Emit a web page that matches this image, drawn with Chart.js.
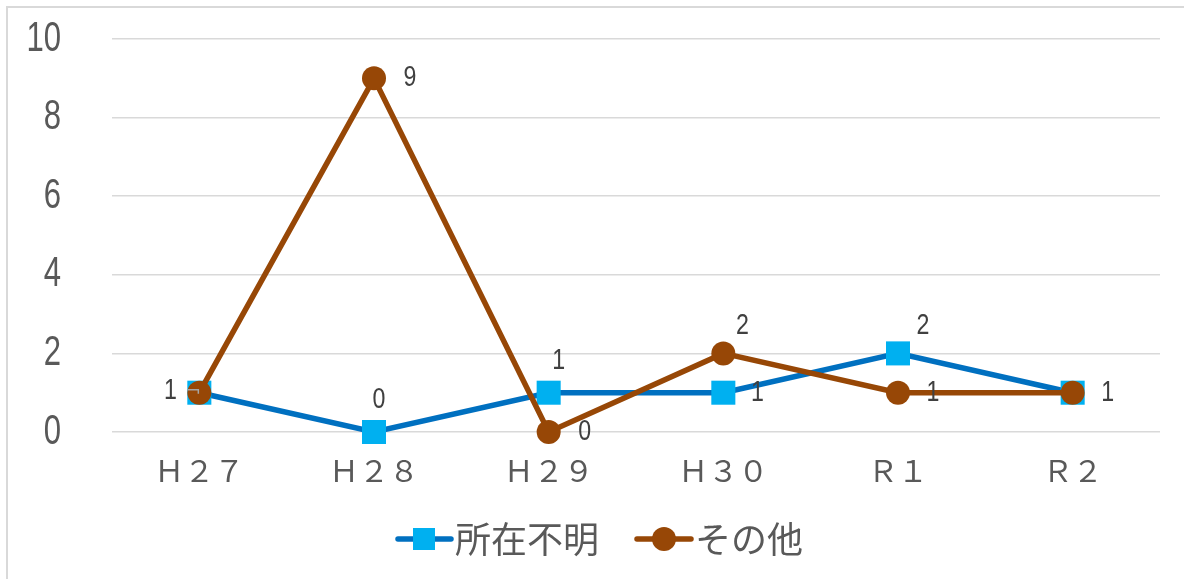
<!DOCTYPE html>
<html lang="ja">
<head>
<meta charset="utf-8">
<script src="https://cdn.jsdelivr.net/npm/chart.js@4/dist/chart.umd.min.js"></script>
<style>
  html, body { margin: 0; padding: 0; background: #fff; }
  canvas { display: block; }
</style>
</head>
<body>
<canvas id="c" width="1184" height="579"></canvas>
<script>
// Yearly counts by reason
const categories = ['Ｈ２７', 'Ｈ２８', 'Ｈ２９', 'Ｈ３０', 'Ｒ１', 'Ｒ２'];
const seriesNames = ['所在不明', 'その他'];
const missingCounts = [1, 0, 1, 1, 2, 1];
const otherCounts = [1, 9, 0, 2, 1, 1];
const yTickValues = [0, 2, 4, 6, 8, 10];

const BLUE_LINE = '#0070C0';
const BLUE_MARK = '#00B0F0';
const BROWN = '#974706';
const TEXT_GRAY = '#595959';
const LABEL_GRAY = '#404040';
const GRID = '#d9d9d9';

const NUM_FONT = '"Liberation Sans", Arial, sans-serif';
const CJK_FONT = '"Noto Sans CJK JP", "Noto Sans", sans-serif';

// Value label placement relative to each point: [dx, dy], null = no label
const missingLabelOffsets = [[-29, -2], [5, -32], [10, -32], [34, 0], [25, -27], [35, 0]];
const otherLabelOffsets = [null, [36, 0], [36, 0], [19, -27], [35, 0], null];

// draw narrow digits: horizontally compressed text
function drawNarrowText(ctx, text, x, y, size, sx, align) {
  ctx.save();
  ctx.font = size + 'px ' + NUM_FONT;
  ctx.textBaseline = 'middle';
  ctx.textAlign = align;
  ctx.translate(x, y);
  ctx.scale(sx, 1);
  ctx.fillText(text, 0, 0);
  ctx.restore();
}

const decorations = {
  id: 'decorations',
  beforeDraw(chart) {
    const ctx = chart.ctx;
    ctx.save();
    ctx.strokeStyle = GRID;
    ctx.lineWidth = 2;
    ctx.strokeRect(7, 7, 1400, 800);
    ctx.restore();
  },
  afterDraw(chart) {
    const ctx = chart.ctx;
    const ds = chart.data.datasets;

    // y-axis tick labels
    const yScale = chart.scales.y;
    ctx.save();
    ctx.fillStyle = TEXT_GRAY;
    yScale.ticks.forEach(t => {
      drawNarrowText(ctx, String(t.value), 61, yScale.getPixelForValue(t.value), 42, 0.74, 'right');
    });
    ctx.restore();

    // leader line for the first label
    const p0 = chart.getDatasetMeta(0).data[0];
    ctx.save();
    ctx.strokeStyle = '#a6a6a6';
    ctx.lineWidth = 1.5;
    ctx.beginPath();
    ctx.moveTo(p0.x - 12, p0.y - 3);
    ctx.lineTo(p0.x - 1, p0.y - 3);
    ctx.lineTo(p0.x - 1, p0.y + 1);
    ctx.stroke();
    ctx.restore();

    // value labels
    ctx.save();
    ctx.fillStyle = LABEL_GRAY;
    ds.forEach((d, i) => {
      const meta = chart.getDatasetMeta(i);
      meta.data.forEach((el, j) => {
        const off = d.labelOffsets[j];
        if (!off) return;
        drawNarrowText(ctx, String(d.data[j]), el.x + off[0], el.y + off[1], 29, 0.8, 'center');
      });
    });
    ctx.restore();

    // legend
    const y = 539;
    ctx.save();
    ctx.lineCap = 'round';
    ctx.strokeStyle = ds[0].borderColor;
    ctx.lineWidth = 5.5;
    ctx.beginPath(); ctx.moveTo(398, y); ctx.lineTo(451, y); ctx.stroke();
    ctx.fillStyle = ds[0].pointBackgroundColor;
    ctx.fillRect(413, y - 11, 22, 22);
    ctx.strokeStyle = ds[1].borderColor;
    ctx.beginPath(); ctx.moveTo(637, y); ctx.lineTo(691, y); ctx.stroke();
    ctx.fillStyle = ds[1].pointBackgroundColor;
    ctx.beginPath(); ctx.arc(664, y, 12, 0, Math.PI * 2); ctx.fill();

    ctx.fillStyle = TEXT_GRAY;
    ctx.font = '36px ' + CJK_FONT;
    ctx.textAlign = 'left';
    ctx.textBaseline = 'middle';
    ctx.fillText(ds[0].label, 455, y);
    ctx.fillText(ds[1].label, 695, y);
    ctx.restore();
  }
};

new Chart(document.getElementById('c'), {
  type: 'line',
  data: {
    labels: categories,
    datasets: [
      {
        label: seriesNames[0],
        data: missingCounts,
        borderColor: BLUE_LINE,
        borderWidth: 5.5,
        pointStyle: 'rect',
        pointRadius: 17,
        pointHoverRadius: 17,
        pointBackgroundColor: BLUE_MARK,
        pointBorderColor: BLUE_MARK,
        pointBorderWidth: 0,
        tension: 0,
        clip: false,
        order: 1,
        labelOffsets: missingLabelOffsets
      },
      {
        label: seriesNames[1],
        data: otherCounts,
        borderColor: BROWN,
        borderWidth: 5.5,
        pointStyle: 'circle',
        pointRadius: 12,
        pointHoverRadius: 12,
        pointBackgroundColor: BROWN,
        pointBorderColor: BROWN,
        pointBorderWidth: 0,
        tension: 0,
        clip: false,
        order: 0,
        labelOffsets: otherLabelOffsets
      }
    ]
  },
  options: {
    responsive: false,
    animation: false,
    events: [],
    layout: { padding: { left: 0, right: 24, top: 39, bottom: 0 } },
    plugins: {
      legend: { display: false },
      tooltip: { enabled: false }
    },
    scales: {
      x: {
        offset: true,
        grid: { display: false, drawTicks: false },
        border: { display: false },
        ticks: {
          color: TEXT_GRAY,
          font: { family: CJK_FONT, size: 30 },
          padding: 21,
          maxRotation: 0
        },
        afterFit(scale) { scale.height = 147; }
      },
      y: {
        min: 0,
        max: 10,
        afterBuildTicks(scale) { scale.ticks = yTickValues.map(v => ({ value: v })); },
        grid: { color: GRID, lineWidth: 1.5, drawTicks: false },
        border: { display: false },
        ticks: { display: false },
        afterFit(scale) {
          scale.width = 112;
          scale.paddingTop = 0;
          scale.paddingBottom = 0;
        }
      }
    }
  },
  plugins: [decorations]
});
</script>
</body>
</html>
